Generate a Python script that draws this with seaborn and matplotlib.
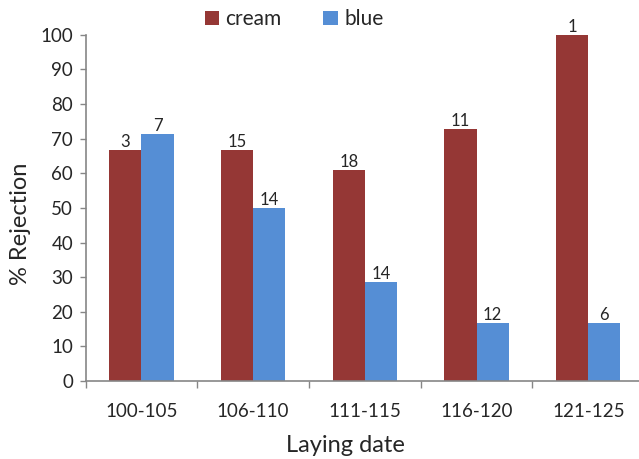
import matplotlib
matplotlib.use("Agg")
import matplotlib.pyplot as plt
import seaborn as sns
import pandas as pd

# Laying date windows and rejection rates (%) per egg colour
dates = ["100-105", "106-110", "111-115", "116-120", "121-125"]
cream_pct = [66.7, 66.7, 61.1, 72.7, 100.0]
blue_pct = [71.4, 50.0, 28.6, 16.7, 16.7]
# sample sizes shown above each bar
cream_n = [3, 15, 18, 11, 1]
blue_n = [7, 14, 14, 12, 6]

df = pd.DataFrame({
    "date": dates * 2,
    "pct": cream_pct + blue_pct,
    "colour": ["cream"] * len(dates) + ["blue"] * len(dates),
})

sns.set_theme(style="white")
plt.rcParams["font.family"] = ["Lato", "DejaVu Sans"]

fig = plt.figure(figsize=(6.39, 4.59), dpi=100)
ax = fig.add_axes([0.134, 0.170, 0.874, 0.754])

palette = {"cream": "#953735", "blue": "#558ED5"}
sns.barplot(data=df, x="date", y="pct", hue="colour", order=dates,
            hue_order=["cream", "blue"], palette=palette, width=0.575,
            saturation=1, linewidth=0, ax=ax, legend=True)

for cont, ns in zip(ax.containers, [cream_n, blue_n]):
    ax.bar_label(cont, labels=[str(n) for n in ns], padding=0,
                 fontsize=12, color="#262626")

ax.set_ylim(0, 100)
ax.set_xlim(-0.5, 4.5)
ax.set_yticks(range(0, 101, 10))
ax.tick_params(axis="y", labelsize=13.5, length=4, width=1, color="#868686",
               labelcolor="#262626", left=True, direction="out", pad=5)
ax.set_xticks(range(len(dates)))
ax.set_xticks([i - 0.5 for i in range(len(dates) + 1)], minor=True)
ax.tick_params(axis="x", which="major", length=0, labelsize=13.5,
               labelcolor="#262626", pad=16)
ax.tick_params(axis="x", which="minor", length=5, width=1, color="#868686",
               bottom=True, direction="out")

for side in ["top", "right"]:
    ax.spines[side].set_visible(False)
for side in ["left", "bottom"]:
    ax.spines[side].set_color("#868686")
    ax.spines[side].set_linewidth(1.2)

ax.set_ylabel("% Rejection", fontsize=17, color="#262626")
ax.yaxis.set_label_coords(-0.098, 0.454)
ax.set_xlabel("Laying date", fontsize=17, color="#262626")
ax.xaxis.set_label_coords(0.465, -0.155)

leg = ax.legend(loc="center", bbox_to_anchor=(0.373, 1.045), ncol=2,
                frameon=False, fontsize=15, handlelength=0.7,
                handleheight=0.7, handletextpad=0.3, columnspacing=2.0)

fig.savefig("out.png", dpi=100)
